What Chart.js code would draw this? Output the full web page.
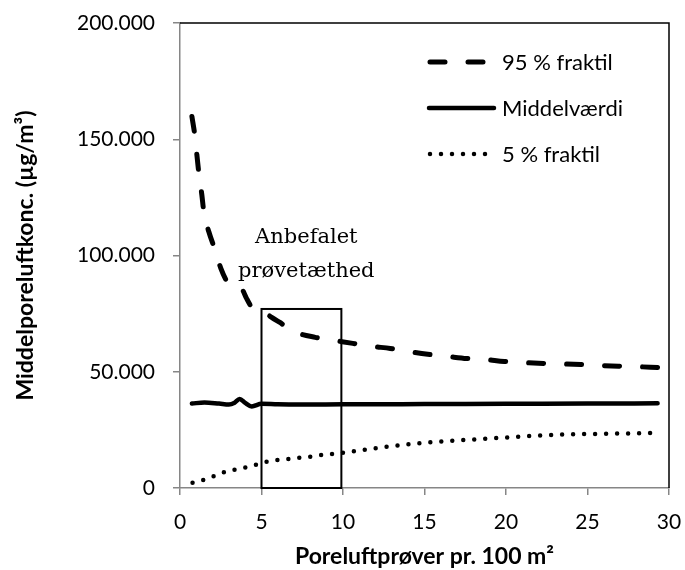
<!DOCTYPE html>
<html>
<head>
<meta charset="utf-8">
<script src="https://cdn.jsdelivr.net/npm/chart.js@4.4.1/dist/chart.umd.min.js"></script>
<style>
  html, body { margin: 0; padding: 0; background: #ffffff; }
  #wrap { width: 685px; height: 570px; }
</style>
</head>
<body>
<div id="wrap"><canvas id="c" width="685" height="570"></canvas></div>
<script>
// Samples per 100 m² (x) and mean soil-gas concentration (µg/m³) per series
const p95X = [0.73, 0.91, 1.04, 1.16, 1.34, 1.46, 1.77, 2.13, 2.5, 3.0, 3.4, 3.8, 4.05, 4.3, 4.7, 5.0, 5.3, 5.6, 6.1, 7.1, 8.3, 9.45, 10.6, 11.8, 12.9, 14.0, 15.2, 16.4, 17.6, 18.7, 19.9, 21.0, 22.3, 23.4, 24.6, 25.7, 26.9, 28.0, 29.3];
const p95Y = [159800, 151600, 143000, 135200, 126100, 118800, 110200, 102800, 94600, 87500, 86300, 85500, 82000, 78800, 76500, 75800, 75000, 73500, 71300, 67000, 64800, 63500, 62200, 60900, 60000, 58700, 57500, 56600, 55700, 55300, 54400, 54000, 53600, 53400, 53100, 52700, 52400, 52200, 51800];

const meanX = [0.73, 1.5, 2.4, 3.0, 3.35, 3.66, 4.0, 4.4, 5.0, 6.0, 7.3, 10, 15, 20, 25, 29.3];
const meanY = [36300, 36800, 36300, 35900, 36700, 38300, 36600, 35100, 36200, 36000, 35900, 36000, 36100, 36200, 36300, 36400];

const p5X = [0.77, 1.45, 2.12, 2.76, 3.41, 4.09, 4.76, 5.41, 6.05, 6.75, 7.44, 8.11, 8.78, 9.45, 10.12, 12.2, 14.9, 17.6, 20.4, 23.1, 25.9, 28.5, 29.3];
const p5Y = [2300, 3500, 5200, 6900, 8000, 8900, 10200, 11400, 12100, 12500, 13100, 13500, 14300, 14700, 15300, 17300, 19400, 20700, 21900, 22900, 23300, 23600, 23800];

const seriesLabels = ['95 % fraktil', 'Middelværdi', '5 % fraktil'];

// Recommended sampling density window
const boxRange = [5, 9.9];
const boxTop = 77000;
const boxText = ['Anbefalet', 'prøvetæthed'];

const xTitle = 'Poreluftprøver pr. 100 m²';
const yTitle = 'Middelporeluftkonc. (µg/m³)';

const toPoints = (xs, ys) => xs.map((x, i) => ({ x: x, y: ys[i] }));
const fmt = v => String(v).replace(/\B(?=(\d{3})+(?!\d))/g, '.');

const SANS = 'Lato, "Open Sans", sans-serif';
const AXIS_GREY = '#868686';

// Frame, recommended-density box, its caption and the legend
const overlay = {
  id: 'overlay',
  afterDatasetsDraw(chart) {
    const { ctx, chartArea: a, scales: { x, y } } = chart;
    ctx.save();
    // plot-area border on top and right
    ctx.strokeStyle = '#000';
    ctx.lineWidth = 1.5;
    ctx.beginPath();
    ctx.moveTo(a.left, a.top);
    ctx.lineTo(a.right, a.top);
    ctx.lineTo(a.right, a.bottom);
    ctx.stroke();

    // box
    const bx0 = x.getPixelForValue(boxRange[0]);
    const bx1 = x.getPixelForValue(boxRange[1]);
    const by0 = y.getPixelForValue(0);
    const by1 = y.getPixelForValue(boxTop);
    ctx.lineWidth = 2;
    ctx.strokeRect(bx0, by1, bx1 - bx0, by0 - by1);

    // caption
    ctx.fillStyle = '#000';
    ctx.font = '21px "DejaVu Serif", serif';
    ctx.textAlign = 'center';
    ctx.textBaseline = 'alphabetic';
    const cx = x.getPixelForValue(7.75);
    ctx.fillText(boxText[0], cx, 243);
    ctx.fillText(boxText[1], cx, 277);

    // legend
    const rows = [62, 108, 154];
    chart.data.datasets.forEach((ds, i) => {
      const yy = rows[i];
      ctx.save();
      ctx.strokeStyle = ds.borderColor;
      ctx.lineWidth = ds.borderWidth;
      ctx.lineCap = ds.borderCapStyle || 'butt';
      ctx.setLineDash(ds.borderDash || []);
      ctx.beginPath();
      ctx.moveTo(i === 1 ? 429 : 430, yy);
      ctx.lineTo(i === 1 ? 494 : (i === 2 ? 488 : 486), yy);
      ctx.stroke();
      ctx.restore();
      ctx.fillStyle = '#000';
      ctx.font = '22px ' + SANS;
      ctx.textAlign = 'left';
      ctx.textBaseline = 'middle';
      ctx.fillText(ds.label, 502, yy + 1);
    });
    ctx.restore();
  }
};

const lineBase = { borderColor: '#000', pointRadius: 0, fill: false, tension: 0.35, cubicInterpolationMode: 'monotone' };

new Chart(document.getElementById('c'), {
  type: 'line',
  data: {
    datasets: [
      Object.assign({}, lineBase, { label: seriesLabels[0], data: toPoints(p95X, p95Y), borderWidth: 5, borderDash: [15, 23], borderCapStyle: 'round' }),
      Object.assign({}, lineBase, { label: seriesLabels[1], data: toPoints(meanX, meanY), borderWidth: 4.5, borderCapStyle: 'round' }),
      Object.assign({}, lineBase, { label: seriesLabels[2], data: toPoints(p5X, p5Y), borderWidth: 4.5, borderDash: [0, 11], borderCapStyle: 'round' })
    ]
  },
  options: {
    responsive: false,
    animation: false,
    devicePixelRatio: 1,
    layout: { padding: { top: 23, right: 16, left: 0, bottom: 0 } },
    plugins: { legend: { display: false }, tooltip: { enabled: false } },
    scales: {
      x: {
        type: 'linear', min: 0, max: 30,
        afterFit(s) { s.height = 82; s.paddingLeft = 0; s.paddingRight = 0; },
        ticks: { stepSize: 5, color: '#000', font: { family: SANS, size: 21 }, padding: 15, maxRotation: 0 },
        grid: { drawOnChartArea: false, color: AXIS_GREY, tickLength: 7, lineWidth: 1.5 },
        border: { color: AXIS_GREY, width: 1.5 },
        title: { display: true, text: xTitle, color: '#000', font: { family: SANS, size: 23, weight: 'bold' }, padding: { top: 0, bottom: 0 } }
      },
      y: {
        min: 0, max: 200000,
        afterFit(s) { s.width = 180; s.paddingTop = 0; s.paddingBottom = 0; },
        ticks: { stepSize: 50000, color: '#000', font: { family: SANS, size: 21 }, padding: 18, callback: v => fmt(v) },
        grid: { drawOnChartArea: false, color: AXIS_GREY, tickLength: 7, lineWidth: 1.5 },
        border: { color: AXIS_GREY, width: 1.5 },
        title: { display: true, text: yTitle, color: '#000', font: { family: SANS, size: 23, weight: 'bold' }, padding: { top: 12, bottom: 0 } }
      }
    }
  },
  plugins: [overlay]
});
</script>
</body>
</html>
